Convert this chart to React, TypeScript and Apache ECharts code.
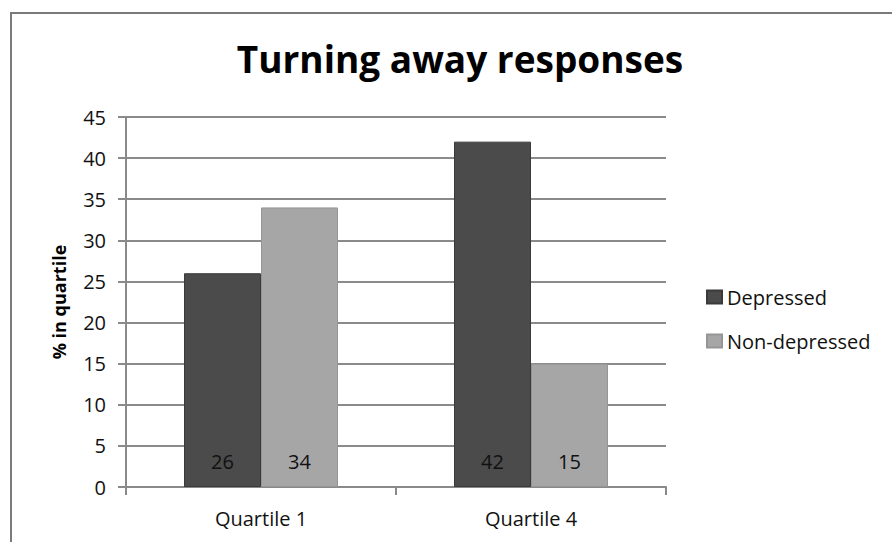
import React, { useEffect, useRef } from "react";
import * as echarts from "echarts";

const categories = ["Quartile 1", "Quartile 4"];
const depressed = [26, 42];
const nonDepressed = [34, 15];
const seriesNames = ["Depressed", "Non-depressed"];
const titleText = "Turning away responses";
const yAxisName = "% in quartile";

export default function App() {
  const ref = useRef<HTMLDivElement>(null);
  useEffect(() => {
    if (!ref.current) return;
    const chart = echarts.init(ref.current, undefined, { renderer: "svg" });
    const font = "'Open Sans', 'Noto Sans', sans-serif";
    chart.setOption({
      animation: false,
      backgroundColor: "#ffffff",
      textStyle: { fontFamily: font },
      title: {
        text: titleText,
        left: 455,
        top: 35,
        textAlign: "center",
        textStyle: { fontFamily: font, fontSize: 37, fontWeight: "bold", color: "#000" },
      },
      graphic: [
        {
          type: "rect",
          shape: { x: 11, y: 13, width: 900, height: 600 },
          style: { fill: "none", stroke: "#7a7a7a", lineWidth: 2 },
          silent: true,
        },
      ],
      grid: { left: 126, top: 117, width: 540, height: 370, containLabel: false },
      legend: {
        orient: "vertical",
        left: 701,
        top: 282,
        itemWidth: 15,
        itemHeight: 13,
        itemGap: 24,
        icon: "rect",
        data: seriesNames,
        textStyle: { fontFamily: font, fontSize: 20, color: "#111", padding: [0, 0, 0, 0] },
      },
      xAxis: {
        type: "category",
        data: categories,
        axisLine: { lineStyle: { color: "#8a8a8a", width: 2 } },
        axisTick: { show: true, length: 8, lineStyle: { color: "#8a8a8a", width: 2 } },
        axisLabel: { fontFamily: font, fontSize: 20, color: "#111", margin: 21 },
      },
      yAxis: {
        type: "value",
        min: 0,
        max: 45,
        interval: 5,
        name: yAxisName,
        nameLocation: "middle",
        nameGap: 58,
        nameRotate: 90,
        nameTextStyle: { fontFamily: font, fontSize: 18, fontWeight: "bold", color: "#000" },
        axisLine: { show: true, lineStyle: { color: "#8a8a8a", width: 2 } },
        axisTick: { show: true, length: 8, lineStyle: { color: "#8a8a8a", width: 2 } },
        axisLabel: { fontFamily: font, fontSize: 20, color: "#111", margin: 20 },
        splitLine: { lineStyle: { color: "#8a8a8a", width: 2 } },
      },
      series: [
        {
          name: seriesNames[0],
          type: "bar",
          data: depressed,
          barWidth: 77,
          barGap: "0%",
          itemStyle: { color: "#4b4b4b", borderColor: "#3a3a3a", borderWidth: 1 },
          label: {
            show: true,
            position: "insideBottom",
            distance: 16,
            fontFamily: font,
            fontSize: 20,
            color: "#111",
          },
        },
        {
          name: seriesNames[1],
          type: "bar",
          data: nonDepressed,
          barWidth: 77,
          barGap: "0%",
          itemStyle: { color: "#a6a6a6", borderColor: "#959595", borderWidth: 1 },
          label: {
            show: true,
            position: "insideBottom",
            distance: 16,
            fontFamily: font,
            fontSize: 20,
            color: "#111",
          },
        },
      ],
    });
    return () => chart.dispose();
  }, []);
  return (
    <div
      ref={ref}
      style={{ position: "fixed", left: 0, top: 0, width: 892, height: 542 }}
    />
  );
}
